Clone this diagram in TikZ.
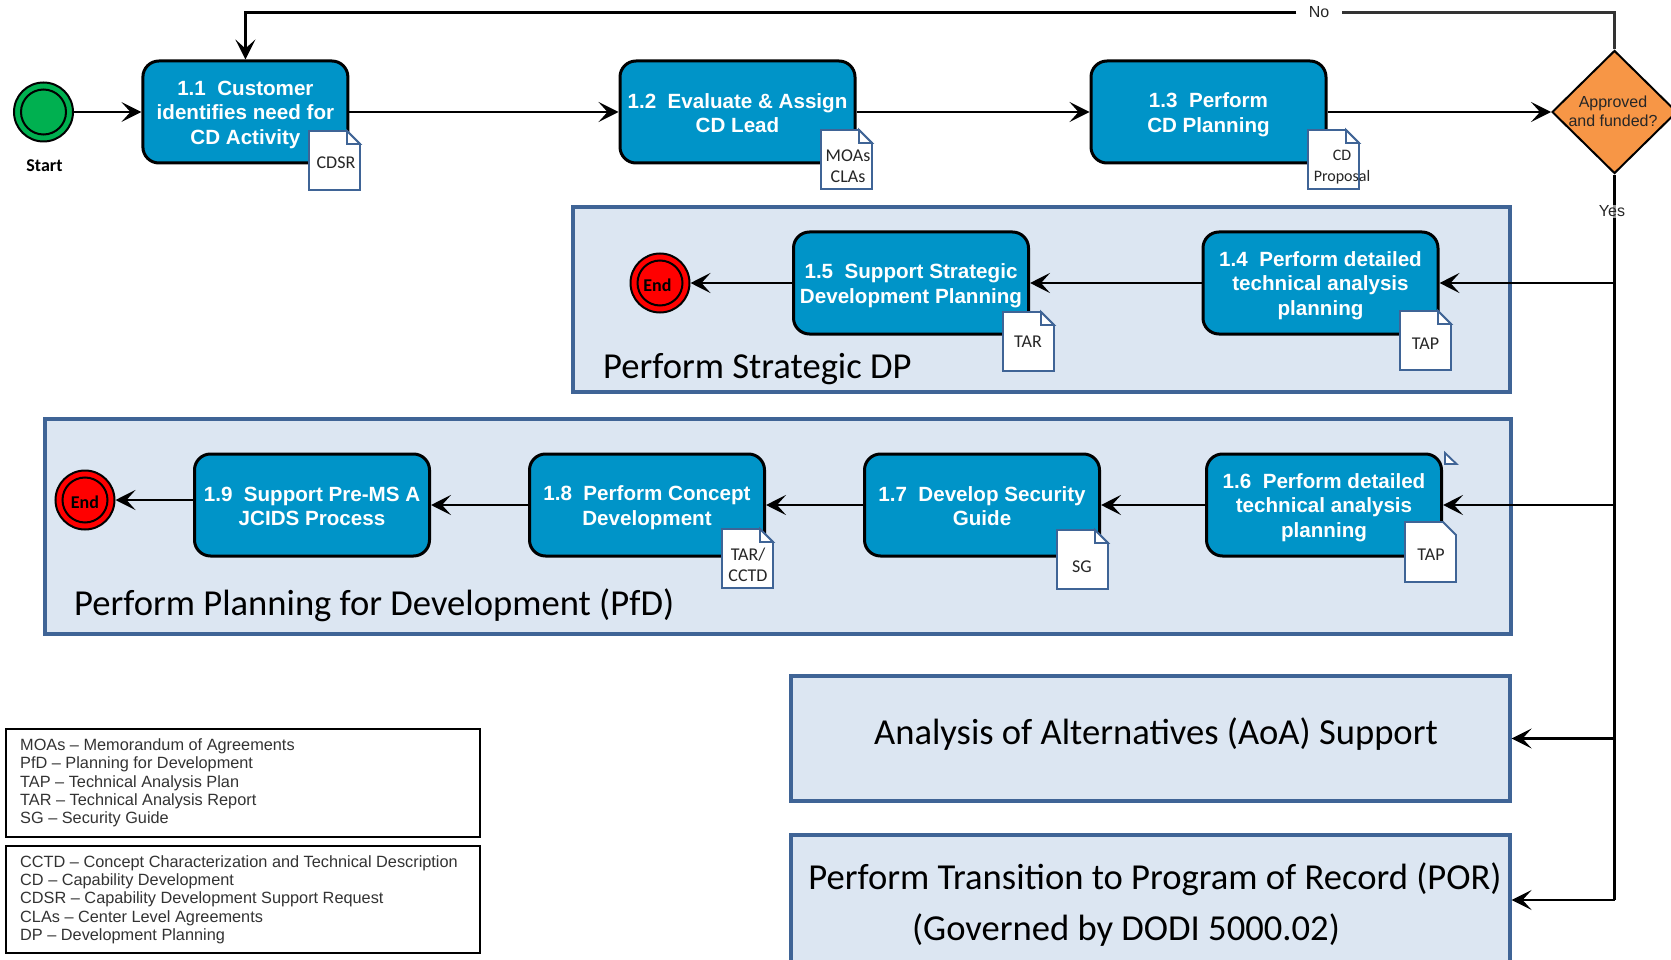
\documentclass[tikz,border=0pt]{standalone}
\usepackage{fontspec}
\setmainfont{Liberation Sans}
\newfontfamily\calibrifont{Carlito}
\usetikzlibrary{arrows.meta,shapes.geometric}
\definecolor{stepblue}{HTML}{0094C8}
\definecolor{panelfill}{HTML}{DCE6F2}
\definecolor{panelline}{HTML}{3F6496}
\definecolor{startgreen}{HTML}{00B050}
\definecolor{askorange}{HTML}{F79646}
\newcommand{\boxstrut}{\rule{0pt}{20pt}}
\tikzset{
  flow/.style={line width=2.4pt, black, -{Stealth[length=20pt,width=20pt,inset=9pt]}},
  plainflow/.style={line width=2.4pt, black},
  stepbox/.style={draw=black, line width=3pt, fill=stepblue, rounded corners=16pt, minimum height=102pt, minimum width=235pt, inner sep=0pt, align=center, text=white, font=\fontsize{20.6}{24.5}\selectfont\bfseries, execute at end node=\rule[-3pt]{0pt}{3pt}},
  panel/.style={draw=panelline, line width=3.2pt, fill=panelfill, inner sep=0pt},
  paneltext/.style={inner sep=0pt, font=\calibrifont\fontsize{36.6}{40}\selectfont},
  docline/.style={draw=panelline, line width=1.9pt, fill=white},
  doctext/.style={inner sep=0pt, align=center, text=black!85, font=\calibrifont\fontsize{18}{21}\selectfont},
  legend/.style={draw=black, line width=2pt, fill=white, inner sep=0pt, minimum width=474pt, anchor=north west},
  legendtext/.style={inner sep=0pt, anchor=west, align=left, text=black!80, font=\fontsize{16.3}{18.3}\selectfont},
  endouter/.style={circle, draw=black, line width=2pt, fill=red, minimum size=59pt, inner sep=0pt},
  endinner/.style={circle, draw=black, line width=2pt, minimum size=45pt, inner sep=0pt},
  eventtext/.style={inner sep=0pt, font=\calibrifont\bfseries\fontsize{18}{20}\selectfont},
}
% name, x, y, text dx, text dy, text
\newcommand{\docnote}[6]{
  \filldraw[docline] (#2,#3) -- ++(38,0) -- ++(13,13) -- ++(0,46) -- ++(-51,0) -- cycle;
  \filldraw[docline] (#2+38,#3) -- ++(0,13) -- ++(13,0) -- cycle;
  \node[doctext] (#1) at (#2+#4,#3+#5) {#6};
}
\begin{document}
\begin{tikzpicture}[x=1pt,y=-1pt]
  \clip (0,0) rectangle (1671,960);
  \fill[white] (0,0) rectangle (1671,960);

  % Panels
  \node[panel, minimum width=937pt, minimum height=185pt] (panelstrat) at (1041.5,299.5) {};
  \node[panel, minimum width=1466pt, minimum height=215pt] (panelpfd) at (778,526.5) {};
  \node[panel, minimum width=719pt, minimum height=125pt] (panelaoa) at (1150.5,738.5) {};
  \node[panel, minimum width=719pt, minimum height=130pt] (panelpor) at (1150.5,900) {};
  \node[paneltext, anchor=west] (stratname) at (603,369) {Perform Strategic DP};
  \node[paneltext, anchor=west] (pfdname) at (74,605) {Perform Planning for Development (PfD)};
  \node[paneltext] (aoaname) at (1156,734) {Analysis of Alternatives (AoA) Support};
  \node[paneltext] (porname) at (1155,879) {Perform Transition to Program of Record (POR)};
  \node[paneltext] (porbasis) at (1126,930) {(Governed by DODI 5000.02)};

  % Start and top row
  \node[circle, draw=black, line width=2pt, fill=startgreen, minimum size=59pt, inner sep=0pt] (start) at (43.5,112) {};
  \node[circle, draw=black, line width=2pt, minimum size=45pt, inner sep=0pt] (startring) at (43.5,112) {};
  \node[eventtext] (startname) at (44.5,165.5) {Start};
  \node[stepbox, minimum width=205pt] (box11) at (245.4,112) {\boxstrut 1.1~~Customer\\identifies need for\\CD Activity};
  \node[stepbox] (box12) at (737.5,112) {\boxstrut 1.2~~Evaluate \& Assign\\CD Lead};
  \node[stepbox] (box13) at (1208.5,112) {\boxstrut 1.3~~Perform\\CD Planning};
  \node[diamond, aspect=1, draw=black, line width=2pt, fill=askorange, minimum width=125pt, minimum height=123pt, inner sep=0pt] (funded) at (1614.5,112) {};
  \node[inner sep=0pt, align=center, text=black!85, font=\fontsize{16}{19.5}\selectfont] (fundedtext) at (1613,111.5) {Approved\\and funded?};
  \docnote{doccdsr}{309}{131}{27}{32}{CDSR}
  \docnote{docmoas}{821}{130}{27}{36.5}{MOAs\\CLAs}
  \docnote{docprop}{1308}{130}{34}{37}{\fontsize{16}{19.5}\selectfont CD\\\fontsize{16}{19.5}\selectfont Proposal}

  % Strategic DP row
  \node[stepbox] (box14) at (1320.5,283) {\boxstrut 1.4~~Perform detailed\\technical analysis\\planning};
  \node[stepbox] (box15) at (911,283) {\boxstrut 1.5~~Support Strategic\\Development Planning};
  \node[endouter] (endstrat) at (660,283) {};
  \node[endinner] (endstratring) at (660,283) {};
  \node[eventtext] (endstratname) at (657.5,285.5) {End};
  \docnote{doctap}{1400}{311}{25.5}{33}{TAP}
  \docnote{doctar}{1003}{312}{25}{30}{TAR}

  % PfD row
  \node[stepbox] (box16) at (1324,505) {\boxstrut 1.6~~Perform detailed\\technical analysis\\planning};
  \node[stepbox] (box17) at (982,505) {\boxstrut 1.7~~Develop Security\\Guide};
  \node[stepbox] (box18) at (647,505) {\boxstrut 1.8~~Perform Concept\\Development};
  \node[stepbox] (box19) at (312,505) {\boxstrut 1.9~~Support Pre-MS A\\JCIDS Process};
  \node[endouter] (endpfd) at (85,500) {};
  \node[endinner] (endpfdring) at (85,500) {};
  \node[eventtext] (endpfdname) at (85,502) {End};
  \filldraw[docline] (1405,522) -- (1443,522) -- (1456,535) -- (1456,582) -- (1405,582) -- cycle;
  \node[doctext] (doctapb) at (1431,555) {TAP};
  \filldraw[docline] (1445,453) -- (1456.5,464) -- (1445,464) -- cycle;
  \docnote{doctarb}{722}{529}{26}{36}{TAR/\\CCTD}
  \docnote{docsg}{1057}{530}{25}{37}{SG}

  % Legends
  \node[legend, minimum height=108pt] (legendone) at (5,728) {};
  \node[legend, minimum height=107pt] (legendtwo) at (5,845) {};
  \node[legendtext] (legendonetext) at (20,783) {MOAs -- Memorandum of Agreements\\PfD -- Planning for Development\\TAP -- Technical Analysis Plan\\TAR -- Technical Analysis Report\\SG -- Security Guide};
  \node[legendtext] (legendtwotext) at (20,899.5) {CCTD -- Concept Characterization and Technical Description\\CD -- Capability Development\\CDSR -- Capability Development Support Request\\CLAs -- Center Level Agreements\\DP -- Development Planning};

  % Connectors
  \node[inner sep=0pt, minimum width=45pt, minimum height=16pt, font=\fontsize{16}{19}\selectfont, text=black!85] (nolabel) at (1319,12.5) {No};
  \coordinate (junc14) at (1614.5,283);
  \coordinate (junc16) at (1614.5,505);
  \coordinate (juncaoa) at (1614.5,738.5);
  \coordinate (juncpor) at (1614.5,900);
  \draw[flow] (start) -- (box11);
  \draw[flow] (box11) -- (box12);
  \draw[flow] (box12) -- (box13);
  \draw[flow] (box13) -- (funded);
  \draw[plainflow, black!80] (funded) |- (nolabel);
  \draw[flow] (nolabel) -| (box11);
  \draw[plainflow] (funded) -- (juncpor);
  \draw[flow] (junc14) -- (box14);
  \draw[flow] (box14) -- (box15);
  \draw[flow] (box15) -- (endstrat);
  \draw[flow] (junc16) -- (box16);
  \draw[flow] (box16) -- (box17);
  \draw[flow] (box17) -- (box18);
  \draw[flow] (box18) -- (box19);
  \draw[flow] (box19.west |- endpfd) -- (endpfd);
  \draw[flow] (juncaoa) -- (panelaoa);
  \draw[flow] (juncpor) -- (panelpor);
  \node[inner sep=1pt, fill=white, fill opacity=.6, text opacity=1, font=\fontsize{16}{19}\selectfont, text=black!85] (yeslabel) at (1612,211.5) {Yes};
\end{tikzpicture}
\end{document}
